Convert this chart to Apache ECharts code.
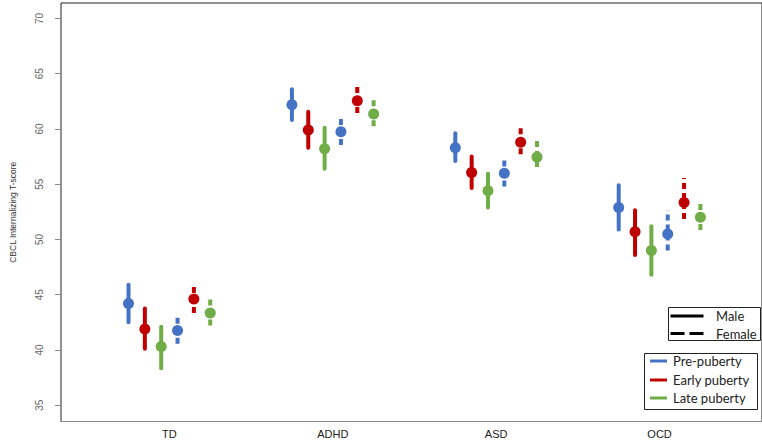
<!DOCTYPE html>
<html>
<head>
<meta charset="utf-8">
<script src="https://cdn.jsdelivr.net/npm/echarts@6/dist/echarts.min.js"></script>
<style>
  html, body { margin: 0; padding: 0; background: #fff; }
  #chart { width: 762px; height: 444px; }
</style>
</head>
<body>
<div id="chart"></div>
<script>
// Diagnostic groups along the x axis
const categories = ['TD', 'ADHD', 'ASD', 'OCD'];
const yTicks = [35, 40, 45, 50, 55, 60, 65, 70];

// Mean CBCL Internalizing T-score with lower / upper interval bounds
const preMaleMean   = [44.2, 62.2, 58.3, 52.9];
const preMaleLow    = [42.5, 60.8, 57.1, 50.9];
const preMaleHigh   = [45.9, 63.6, 59.6, 54.9];

const earlyMaleMean = [41.9, 59.9, 56.05, 50.7];
const earlyMaleLow  = [40.1, 58.3, 54.65, 48.6];
const earlyMaleHigh = [43.75, 61.55, 57.5, 52.65];

const lateMaleMean  = [40.3, 58.2, 54.4, 49.0];
const lateMaleLow   = [38.35, 56.4, 52.9, 46.8];
const lateMaleHigh  = [42.1, 60.1, 55.95, 51.2];

const preFemaleMean   = [41.75, 59.75, 56.0, 50.5];
const preFemaleLow    = [40.55, 58.55, 54.8, 49.0];
const preFemaleHigh   = [43.15, 61.2, 57.3, 52.65];

const earlyFemaleMean = [44.6, 62.55, 58.8, 53.35];
const earlyFemaleLow  = [43.35, 61.45, 57.7, 51.85];
const earlyFemaleHigh = [45.95, 64.05, 60.25, 55.55];

const lateFemaleMean  = [43.35, 61.35, 57.45, 52.0];
const lateFemaleLow   = [42.2, 60.25, 56.55, 50.85];
const lateFemaleHigh  = [44.85, 62.8, 59.15, 53.45];

const BLUE = '#4472C4', RED = '#C00000', GREEN = '#70AD47';

const groups = [
  { name: 'Pre-puberty, Male',     color: BLUE,  dashed: false, offset: -0.25, mean: preMaleMean,     low: preMaleLow,     high: preMaleHigh },
  { name: 'Early puberty, Male',   color: RED,   dashed: false, offset: -0.15, mean: earlyMaleMean,   low: earlyMaleLow,   high: earlyMaleHigh },
  { name: 'Late puberty, Male',    color: GREEN, dashed: false, offset: -0.05, mean: lateMaleMean,    low: lateMaleLow,    high: lateMaleHigh },
  { name: 'Pre-puberty, Female',   color: BLUE,  dashed: true,  offset: 0.05,  mean: preFemaleMean,   low: preFemaleLow,   high: preFemaleHigh },
  { name: 'Early puberty, Female', color: RED,   dashed: true,  offset: 0.15,  mean: earlyFemaleMean, low: earlyFemaleLow, high: earlyFemaleHigh },
  { name: 'Late puberty, Female',  color: GREEN, dashed: true,  offset: 0.25,  mean: lateFemaleMean,  low: lateFemaleLow,  high: lateFemaleHigh }
];

function makeSeries(g) {
  const data = categories.map((c, i) => [i + 1 + g.offset, g.mean[i], g.low[i], g.high[i]]);
  return {
    type: 'custom',
    name: g.name,
    data: data,
    encode: { x: 0, y: [1, 2, 3] },
    renderItem: function (params, api) {
      const x = api.value(0);
      const c = api.coord([x, api.value(1)]);
      const lo = api.coord([x, api.value(2)]);
      const hi = api.coord([x, api.value(3)]);
      return {
        type: 'group',
        children: [
          {
            type: 'line',
            shape: { x1: lo[0], y1: lo[1], x2: hi[0], y2: hi[1] },
            style: {
              stroke: g.color, lineWidth: 4,
              lineDash: g.dashed ? [6, 4] : null,
              lineCap: g.dashed ? 'butt' : 'round'
            }
          },
          {
            type: 'circle',
            shape: { cx: c[0], cy: c[1], r: 5.5 },
            style: { fill: g.color }
          }
        ]
      };
    }
  };
}

const chart = echarts.init(document.getElementById('chart'), null, { renderer: 'svg' });

const legendFont = '13px Lato, "Noto Sans", sans-serif';

chart.setOption({
  animation: false,
  backgroundColor: '#fff',
  grid: {
    left: 60, right: -3, top: 3, bottom: 22.5,
    show: true, borderColor: '#222', borderWidth: 1, backgroundColor: 'transparent'
  },
  xAxis: {
    type: 'value',
    min: 0.3367, max: 4.627,
    splitLine: { show: false },
    axisLine: { show: true, lineStyle: { color: '#888', width: 1 } },
    axisTick: { show: false },
    axisLabel: {
      customValues: [1, 2, 3, 4],
      formatter: v => categories[Math.round(v) - 1] || '',
      color: '#222', fontSize: 11, fontFamily: 'Liberation Sans, Arial, sans-serif', margin: 7
    }
  },
  yAxis: {
    type: 'value',
    min: 33.52, max: 71.4,
    name: 'CBCL Internalizing T-score',
    nameLocation: 'middle',
    nameGap: 44,
    nameTextStyle: { color: '#333', fontSize: 8.5, fontFamily: 'Liberation Sans, Arial, sans-serif' },
    splitLine: { show: false },
    axisLine: { show: false },
    axisTick: { show: true, length: 6, customValues: yTicks, lineStyle: { color: '#888' } },
    axisLabel: {
      customValues: yTicks,
      rotate: 90,
      margin: 17,
      color: '#666', fontSize: 10, fontFamily: 'Liberation Sans, Arial, sans-serif'
    }
  },
  series: groups.map(makeSeries),
  graphic: [
    // Line-style key: sex
    { type: 'rect', shape: { x: 668.5, y: 307.5, width: 92, height: 33 }, style: { fill: '#fff', stroke: '#222', lineWidth: 1 }, z: 100 },
    { type: 'line', shape: { x1: 670.5, y1: 316, x2: 703.5, y2: 316 }, style: { stroke: '#000', lineWidth: 3 }, z: 101 },
    { type: 'text', style: { x: 716, y: 316, text: 'Male', font: legendFont, fill: '#222', verticalAlign: 'middle' }, z: 101 },
    { type: 'line', shape: { x1: 670.5, y1: 333.5, x2: 703.5, y2: 333.5 }, style: { stroke: '#000', lineWidth: 3, lineDash: [14, 5] }, z: 101 },
    { type: 'text', style: { x: 716, y: 333.5, text: 'Female', font: legendFont, fill: '#222', verticalAlign: 'middle' }, z: 101 },
    // Colour key: pubertal stage
    { type: 'rect', shape: { x: 644.5, y: 353.5, width: 113, height: 56 }, style: { fill: '#fff', stroke: '#222', lineWidth: 1 }, z: 100 },
    { type: 'line', shape: { x1: 650, y1: 361, x2: 667, y2: 361 }, style: { stroke: BLUE, lineWidth: 3 }, z: 101 },
    { type: 'text', style: { x: 673, y: 361, text: 'Pre-puberty', font: legendFont, fill: '#222', verticalAlign: 'middle' }, z: 101 },
    { type: 'line', shape: { x1: 650, y1: 380, x2: 667, y2: 380 }, style: { stroke: RED, lineWidth: 3 }, z: 101 },
    { type: 'text', style: { x: 673, y: 380, text: 'Early puberty', font: legendFont, fill: '#222', verticalAlign: 'middle' }, z: 101 },
    { type: 'line', shape: { x1: 650, y1: 398, x2: 667, y2: 398 }, style: { stroke: GREEN, lineWidth: 3 }, z: 101 },
    { type: 'text', style: { x: 673, y: 398, text: 'Late puberty', font: legendFont, fill: '#222', verticalAlign: 'middle' }, z: 101 }
  ]
});
</script>
</body>
</html>
